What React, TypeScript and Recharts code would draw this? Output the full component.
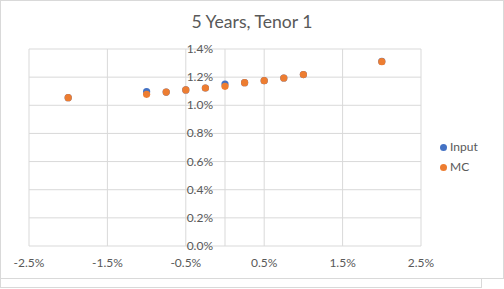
import React from "react";
import {
  ScatterChart,
  Scatter,
  XAxis,
  YAxis,
  CartesianGrid,
  ReferenceLine,
} from "recharts";

const inputX = [-2, -1, -0.75, -0.5, -0.25, 0, 0.25, 0.5, 0.75, 1, 2];
const inputY = [1.054, 1.097, 1.094, 1.109, 1.123, 1.151, 1.161, 1.175, 1.194, 1.218, 1.312];
const mcX = [-2, -1, -0.75, -0.5, -0.25, 0, 0.25, 0.5, 0.75, 1, 2];
const mcY = [1.054, 1.078, 1.094, 1.109, 1.123, 1.135, 1.161, 1.175, 1.194, 1.218, 1.31];
const xTicks = [-2.5, -1.5, -0.5, 0.5, 1.5, 2.5];
const yTicks = [0, 0.2, 0.4, 0.6, 0.8, 1.0, 1.2, 1.4];

const inputData = inputX.map((x, i) => ({ x, y: inputY[i] }));
const mcData = mcX.map((x, i) => ({ x, y: mcY[i] }));

const W = 503;
const H = 278;
const Y_W = 10;
const M = { top: 49, right: 82, left: 29 - Y_W, bottom: 0 };
const X_MIN = -2.5;
const X_MAX = 2.5;
const PLOT_W = W - 29 - M.right;
const Y_AXIS_OFFSET = ((0 - X_MIN) / (X_MAX - X_MIN)) * PLOT_W;

const FONT = "Lato, 'Open Sans', sans-serif";
const TXT = "#595959";
const GRID = "#d9d9d9";

const fmt = (v: number) => v.toFixed(1) + "%";

const YTick = (props: any) => {
  const { y, payload } = props;
  return (
    <text
      x={29 + Y_AXIS_OFFSET - 12}
      y={y}
      dy={4}
      textAnchor="end"
      fill={TXT}
      fontSize={12}
      fontFamily={FONT}
    >
      {fmt(payload.value)}
    </text>
  );
};

const XTick = (props: any) => {
  const { x, y, payload } = props;
  return (
    <text
      x={x}
      y={y}
      dy={13}
      textAnchor="middle"
      fill={TXT}
      fontSize={12}
      fontFamily={FONT}
    >
      {fmt(payload.value)}
    </text>
  );
};

const Dot = (color: string) => (props: any) => {
  const { cx, cy } = props;
  return <circle cx={cx} cy={cy} r={3.6} fill={color} />;
};

export default function App() {
  return (
    <div
      style={{
        position: "absolute",
        left: 0,
        top: 0,
        width: 504,
        height: 289,
        background: "#fff",
        overflow: "hidden",
        fontFamily: FONT,
      }}
    >
      <div
        style={{
          position: "absolute",
          left: 0,
          top: 278,
          width: 482,
          height: 10,
          boxSizing: "border-box",
          border: `1px solid ${GRID}`,
        }}
      />
      <div
        style={{
          position: "absolute",
          left: 0,
          top: 0,
          width: 504,
          height: 279,
          boxSizing: "border-box",
          border: `1px solid ${GRID}`,
          background: "#fff",
        }}
      />
      <div
        style={{
          position: "absolute",
          left: 0,
          top: 10,
          width: 504,
          textAlign: "center",
          fontSize: 17.6,
          color: TXT,
          fontFamily: FONT,
          lineHeight: "24px",
        }}
      >
        5 Years, Tenor 1
      </div>
      <div style={{ position: "absolute", left: 0, top: 0 }}>
        <ScatterChart width={W} height={H} margin={M}>
          <CartesianGrid stroke={GRID} strokeWidth={1} />
          <XAxis
            type="number"
            dataKey="x"
            domain={[X_MIN, X_MAX]}
            ticks={xTicks}
            interval={0}
            axisLine={false}
            tickLine={false}
            height={32}
            tick={<XTick />}
          />
          <YAxis
            type="number"
            dataKey="y"
            domain={[0, 1.4]}
            ticks={yTicks}
            interval={0}
            axisLine={false}
            tickLine={false}
            width={Y_W}
            tick={<YTick />}
          />
          <ReferenceLine x={0} stroke={GRID} strokeWidth={1} />
          <Scatter
            name="Input"
            data={inputData}
            fill="#4472C4"
            shape={Dot("#4472C4")}
            isAnimationActive={false}
          />
          <Scatter
            name="MC"
            data={mcData}
            fill="#ED7D31"
            shape={Dot("#ED7D31")}
            isAnimationActive={false}
          />
        </ScatterChart>
      </div>
      <div
        style={{
          position: "absolute",
          left: 440,
          top: 137,
          fontSize: 12,
          color: TXT,
          fontFamily: FONT,
          lineHeight: "20px",
        }}
      >
        {[
          { name: "Input", color: "#4472C4" },
          { name: "MC", color: "#ED7D31" },
        ].map((s) => (
          <div key={s.name} style={{ display: "flex", alignItems: "center" }}>
            <span
              style={{
                display: "inline-block",
                width: 7,
                height: 7,
                borderRadius: "50%",
                background: s.color,
                marginRight: 3,
              }}
            />
            {s.name}
          </div>
        ))}
      </div>
    </div>
  );
}
